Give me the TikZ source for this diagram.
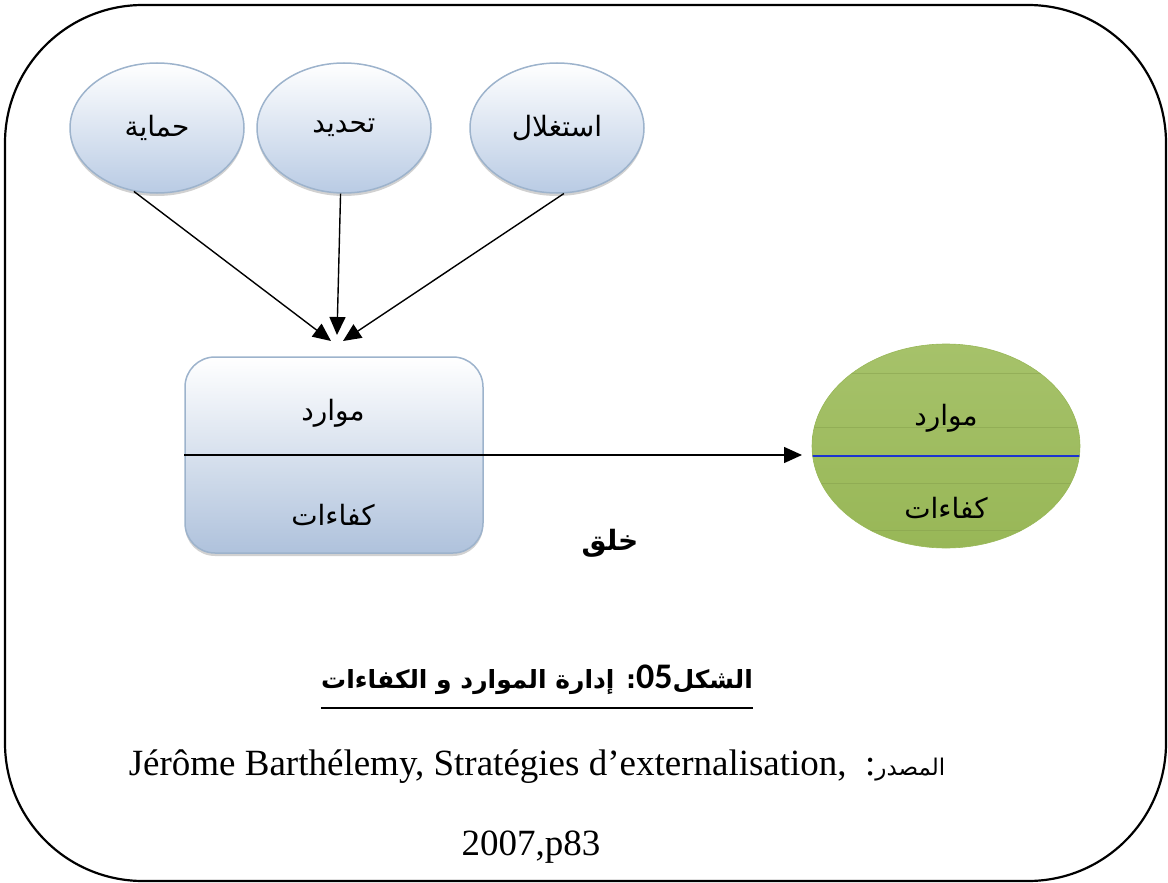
\documentclass[tikz,border=0pt]{standalone}
\usepackage{fontspec}
\setmainfont{Liberation Serif}
\newfontfamily\arabicfont[Script=Arabic]{DejaVu Sans}
\newfontfamily\numfont{Carlito}
\TeXXeTstate=1
\usetikzlibrary{shapes.geometric,arrows.meta,shadows,calc}
\definecolor{ellborder}{HTML}{9DB3CC}
\definecolor{ellbottom}{HTML}{B9CBE4}
\definecolor{boxbottom}{HTML}{AFC2DC}
\definecolor{greentop}{HTML}{A6C26A}
\definecolor{greenbottom}{HTML}{98B757}
\definecolor{greenline}{HTML}{869F4C}
\definecolor{divblue}{HTML}{1C34D0}
\tikzset{
  softshadow/.style={drop shadow={shadow xshift=0pt,shadow yshift=-3pt,opacity=0.3,fill=black!60}},
  topell/.style={ellipse, minimum width=174pt, minimum height=130pt, inner sep=0pt,
    draw=ellborder, line width=1.5pt, top color=white, bottom color=ellbottom, softshadow,
    font=\arabicfont\fontsize{28}{32}\selectfont},
  resbox/.style={rectangle, rounded corners=30pt, minimum width=298pt, minimum height=196pt,
    inner sep=0pt, draw=ellborder, line width=1.5pt, top color=white, bottom color=boxbottom, softshadow},
  greenell/.style={ellipse, minimum width=268pt, minimum height=204pt, inner sep=0pt,
    top color=greentop, bottom color=greenbottom, draw=greenbottom, line width=0.6pt},
  arlabel/.style={font=\arabicfont\fontsize{28}{32}\selectfont, inner sep=0pt},
  conn/.style={line width=1.4pt, -{Triangle[length=18pt,width=16pt]}},
}
\begin{document}
\begin{tikzpicture}[x=1pt,y=-1pt]
\useasboundingbox (0,0) rectangle (1168,883);

% outer frame
\draw[line width=2.2pt, rounded corners=138pt] (5,5) rectangle (1166,881);

% the three actions
\node[topell] (e1) at (157,128) {\beginR حماية\endR};
\node[topell] (e2) at (344,128) {\beginR تحديد\endR};
\node[topell] (e3) at (557,128) {\beginR استغلال\endR};

% arrow tips above the resources box
\coordinate (t1) at (331,341);
\coordinate (t2) at (337,335);
\coordinate (t3) at (343,341);
\draw[conn] (e1.250) -- (t1);
\draw[conn] (e2.267) -- (t2);
\draw[conn] (e3.276) -- (t3);

% resources / competences box
\node[resbox] (box) at (334,455) {};
\node[arlabel] (boxres) at (333,413) {\beginR موارد\endR};
\node[arlabel] (boxcomp) at (333,515) {\beginR كفاءات\endR};
\draw[line width=1.3pt] (box.west) -- (box.east);

% green result ellipse
\node[greenell] (g) at (946,446) {};
\begin{scope}
  \clip (946,446) ellipse [x radius=134pt, y radius=102pt];
  \foreach \yy in {373,427,483,530} {
    \draw[greenline, line width=0.6pt, opacity=0.5] (800,\yy) -- (1100,\yy);
  }
  \draw[divblue, line width=2.6pt] (800,456) -- (1100,456);
\end{scope}
\node[arlabel] (gres) at (946,418) {\beginR موارد\endR};
\node[arlabel] (gcomp) at (946,508) {\beginR كفاءات\endR};

% creation arrow
\coordinate (gin) at (802,455);
\draw[conn] (box.east) -- (gin);
\node[font=\arabicfont\bfseries\fontsize{28}{34}\selectfont] (create) at (610,543) {\beginR خلق\endR};

% caption
\node[font=\arabicfont\bfseries\fontsize{25}{30}\selectfont, inner sep=0pt] (title) at (537,680)
  {\beginR الشكل\beginL{\numfont\bfseries\fontsize{36}{36}\selectfont 05}\endL: إدارة الموارد و الكفاءات\endR};
\coordinate (ulevel) at (0,708);
\draw[line width=2.6pt] (title.west |- ulevel) -- (title.east |- ulevel);

% source
\node[font=\fontsize{37}{44}\selectfont, inner sep=0pt] (src) at (537,767)
  {Jérôme Barthélemy, Stratégies d’externalisation, \ :{\arabicfont\fontsize{23}{26}\selectfont\beginR المصدر\endR}};
\node[font=\fontsize{37}{44}\selectfont, inner sep=0pt] (year) at (531,847) {2007,p83};
\end{tikzpicture}
\end{document}
